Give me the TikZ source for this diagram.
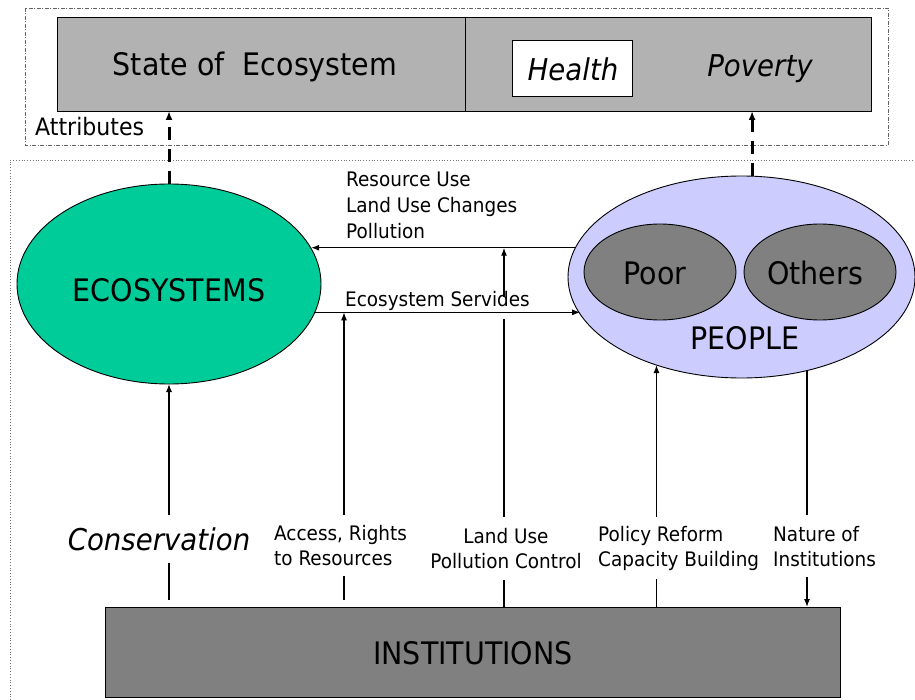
\documentclass[tikz,border=0pt]{standalone}
\usepackage{fontspec}
\setmainfont{DejaVu Sans}[FakeStretch=0.92]
\usetikzlibrary{arrows.meta,shapes.geometric,calc}
\definecolor{ecogreen}{HTML}{00CC99}
\definecolor{peopleblue}{HTML}{CCCCFF}
\definecolor{boxgrey}{HTML}{B2B2B2}
\definecolor{darkgrey}{HTML}{808080}
\begin{document}
\begin{tikzpicture}[x=1pt,y=-1pt,
  big/.style={font=\fontsize{31}{36}\selectfont, inner sep=0pt},
  bigit/.style={font=\fontsize{30}{36}\selectfont\itshape, inner sep=0pt},
  small/.style={font=\fontsize{20}{25}\selectfont},
  lbl/.style={fill=white, inner xsep=2pt, inner ysep=0pt},
  arr/.style={-{Latex[length=8pt,width=6pt]}, line width=1.2pt},
  darr/.style={-{Latex[length=9pt,width=7pt]}, line width=3pt, dash pattern=on 13pt off 9pt},
  shapebox/.style={draw, line width=0.9pt, inner sep=0pt, outer sep=0pt},
  oval/.style={ellipse, draw, line width=0.9pt, inner sep=0pt, outer sep=0pt}
]
\useasboundingbox (0,0) rectangle (915,700);
\fill[white] (0,0) rectangle (915,700);

% frames
\draw[black!60, line width=0.7pt, dash pattern=on 4pt off 1.5pt on 1pt off 1.5pt] (25,8) rectangle (888,145);
\draw[black!55, line width=0.8pt, dotted] (10,700) -- (10,160) -- (915,160);

% attributes box
\node[shapebox, fill=boxgrey, minimum width=814pt, minimum height=94pt] (top) at (464,64) {};
\draw[line width=0.9pt] (465,17) -- (465,111);
\node[big] (soe) at (255,67) {State of\ \ Ecosystem};
\node[shapebox, fill=white, minimum width=120pt, minimum height=56pt] (healthbox) at (572,68) {};
\node[bigit] (health) at (573,69) {Health};
\node[bigit] (poverty) at (760,69) {Poverty};
\node[font=\fontsize{24}{28}\selectfont, anchor=west, inner sep=0pt] (attr) at (35,127) {Attributes};

% main shapes
\node[oval, fill=ecogreen, minimum width=304pt, minimum height=200pt] (eco) at (169,284) {};
\node[big] (ecotext) at (169,290) {ECOSYSTEMS};
\node[oval, fill=peopleblue, minimum width=347pt, minimum height=202pt] (people) at (741.5,277) {};
\node[oval, fill=darkgrey, minimum width=152pt, minimum height=96pt] (poor) at (660,272) {};
\node[oval, fill=darkgrey, minimum width=152pt, minimum height=96pt] (others) at (820,272) {};
\node[big] (poortext) at (655,273) {Poor};
\node[big] (otherstext) at (815,273) {Others};
\node[big] (peopletext) at (745,338) {PEOPLE};
\node[shapebox, fill=darkgrey, minimum width=735pt, minimum height=90pt] (inst) at (472.5,652) {};
\node[big] (insttext) at (473,653) {INSTITUTIONS};

% dashed arrows to attributes
\draw[darr] (eco.north) -- (eco.north |- top.south);
\draw[darr] (people.84) -- (people.84 |- top.south);

% helper coordinates on the horizontal connectors
\coordinate (luEnd) at (people.170 -| 504,0);
\coordinate (accEnd) at (eco.349 -| 344,0);

% land use vertical (behind labels)
\draw[arr] (luEnd |- inst.north) -- (luEnd);
\node[small, fill=white, inner sep=0pt, text height=9.5pt, text depth=12.5pt, anchor=base west] (es) at (345,306.5) {Ecosystem Servides};

% horizontal connectors
\draw[arr] (people.170) -- (people.170 -| eco.14);
\draw[arr] (eco.349) -- (eco.349 -| people.193);
\node[font=\fontsize{20}{26}\selectfont, align=left, anchor=north west, inner sep=0pt] (ru) at (346,172) {Resource Use\\Land Use Changes\\Pollution};

% verticals from institutions
\draw[arr] ($(eco.south |- inst.north)+(0,-7)$) -- (eco.south);
\draw[arr] ($(accEnd |- inst.north)+(0,-7)$) -- (accEnd);
\draw[arr] (people.226 |- inst.north) -- (people.226);
\draw[arr] (people.305) -- (people.305 |- inst.north);

% labels on verticals
\node[bigit, lbl, minimum height=48pt, anchor=north] (cons) at (159,515) {Conservation};
\node[small, lbl, align=left, minimum height=61pt, anchor=north west] (acc) at (272,515) {Access, Rights\\to Resources};
\node[small, lbl, align=center, minimum height=63pt, anchor=north] (lu) at (506,517) {Land Use\\Pollution Control};
\node[small, lbl, align=left, minimum height=62pt, anchor=north west] (pol) at (596,517) {Policy Reform\\Capacity Building};
\node[small, lbl, align=left, minimum height=62pt, anchor=north west] (nat) at (771,515) {Nature of\\Institutions};
\end{tikzpicture}
\end{document}
